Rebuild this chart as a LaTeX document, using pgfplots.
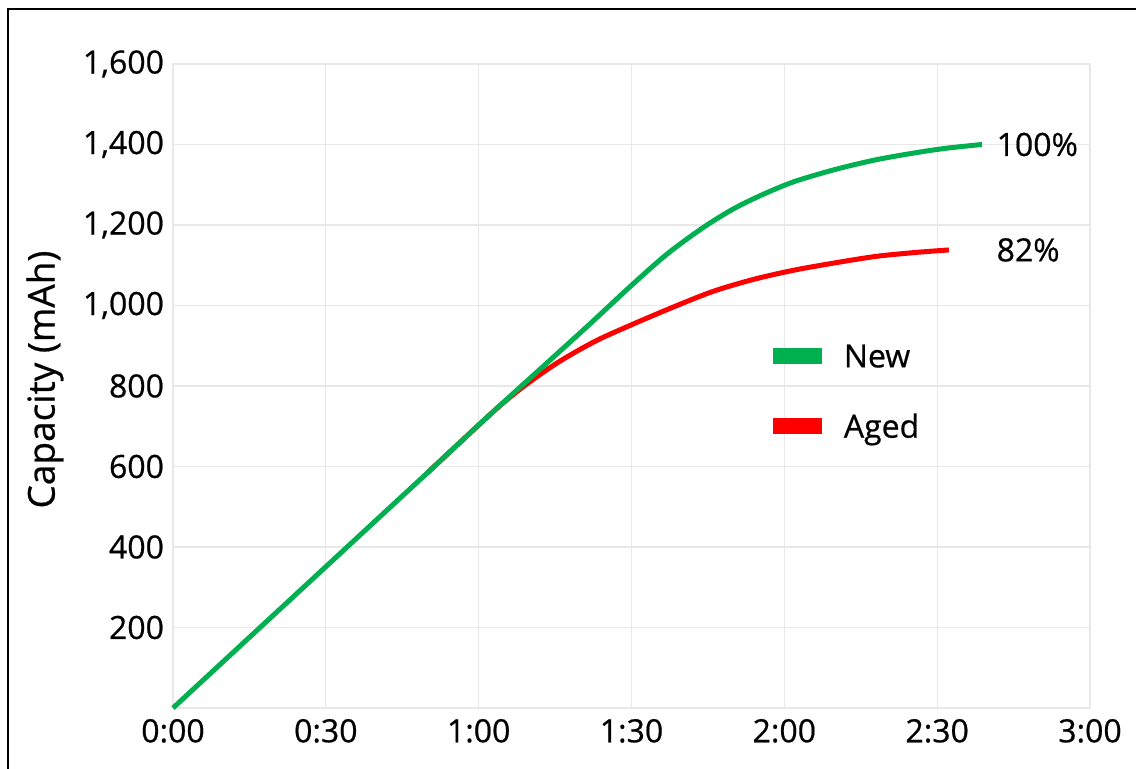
\documentclass[border=0pt]{standalone}
\usepackage{pgfplots}
\pgfplotsset{compat=1.18}
\usepackage{fontspec}
\setmainfont{Open Sans}[FakeBold=0.6]
\definecolor{newgreen}{HTML}{00B050}
\definecolor{agedred}{HTML}{FF0000}
\definecolor{gridgray}{HTML}{E8E8E8}

\begin{document}
\begin{tikzpicture}
\useasboundingbox (0,0) rectangle (568pt,384.5pt);
\draw[line width=1pt] (4pt,0) -- (4pt,380pt) -- (568pt,380pt);

\begin{axis}[
    at={(86.5pt,30.5pt)}, anchor=south west,
    scale only axis,
    width=458.5pt, height=322pt,
    xmin=0, xmax=180,
    ymin=0, ymax=1600,
    xtick={0,30,60,90,120,150,180},
    xticklabels={0:00,0:30,1:00,1:30,2:00,2:30,3:00},
    ytick={200,400,600,800,1000,1200,1400,1600},
    yticklabels={200,400,600,800,{1,000},{1,200},{1,400},{1,600}},
    major tick length=0pt,
    grid=major,
    grid style={gridgray, line width=0.6pt},
    axis line style={gridgray, line width=0.6pt},
    tick label style={font=\fontsize{16}{18}\selectfont},
    yticklabel style={xshift=-1pt},
    xticklabel style={yshift=-2pt},
    ylabel={Capacity (mAh)},
    ylabel style={font=\fontsize{18.5}{21}\selectfont, at={(axis description cs:-0.1396,0.51)}, anchor=center},
    legend style={draw=none, fill=none, at={(rel axis cs:0.645,0.565)}, anchor=north west,
        font=\fontsize{16}{18}\selectfont, row sep=23pt, inner sep=0pt,
        nodes={inner sep=0pt, text depth=0pt}},
    legend cell align=left,
    reverse legend,
    legend image code/.code={\draw[line width=8pt, line cap=butt] (0pt,0pt) -- (24.5pt,0pt);},
    clip=false,
]
\addplot[agedred, line width=2.5pt, smooth, tension=0.5] coordinates {
    (50,585)(60,703)(65,760)(70,810)(76,862)(83,912)(90,952)(98,995)(106,1035)
    (114,1065)(122,1088)(130,1106)(138,1122)(146,1132)(152.3,1138)
};
\addlegendentry{\hspace{7pt}Aged}
\addplot[newgreen, line width=2.5pt, smooth, tension=0.5] coordinates {
    (0,0)(10,117)(20,234)(30,351)(40,468)(50,585)(60,703)(67,784)(74,864)
    (82,956)(90,1050)(97,1128)(104,1193)(110,1240)(116,1277)(122,1308)
    (130,1338)(138,1362)(146,1380)(152,1391)(158.8,1400)
};
\addlegendentry{\hspace{7pt}New}

\node[anchor=west, inner sep=0pt, font=\fontsize{16}{18}\selectfont] at (axis cs:161.6,1400) {100\%};
\node[anchor=west, inner sep=0pt, font=\fontsize{16}{18}\selectfont] at (axis cs:161.6,1138) {82\%};
\end{axis}
\end{tikzpicture}
\end{document}
